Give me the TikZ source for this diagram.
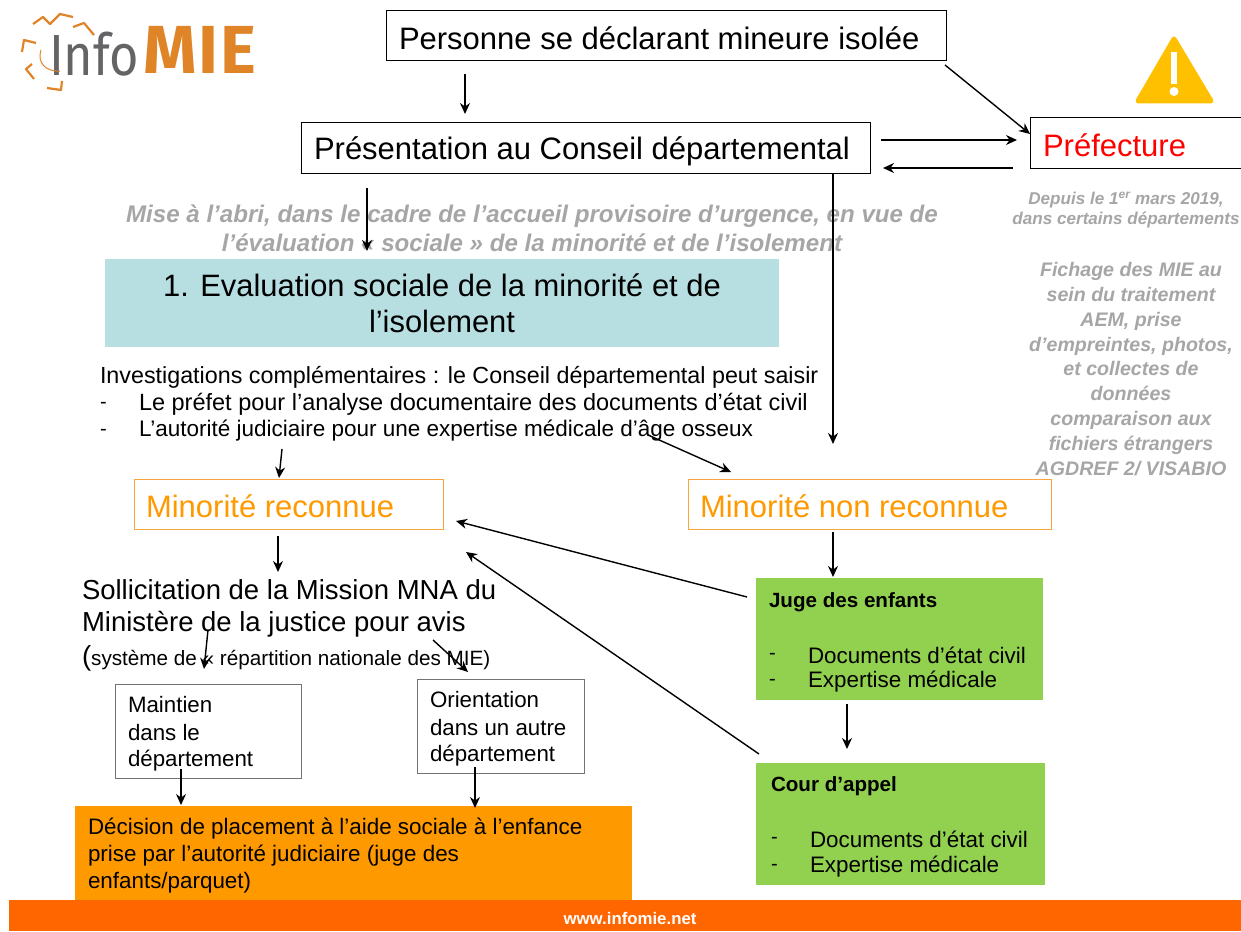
\documentclass[tikz,border=0pt]{standalone}
\usepackage{fontspec}
\usepackage{graphicx}
\setmainfont{Liberation Sans}
\newfontfamily\logofont{Fira Sans}
\newfontfamily\logobold[LetterSpace=3]{Fira Sans}
\usetikzlibrary{arrows.meta}
\definecolor{cgray}{RGB}{166,166,166}
\definecolor{corange}{RGB}{255,153,0}
\definecolor{cbar}{RGB}{255,102,0}
\definecolor{cgreen}{RGB}{146,208,80}
\definecolor{cteal}{RGB}{183,222,225}
\definecolor{clogo}{RGB}{224,132,40}
\definecolor{clogog}{RGB}{100,100,102}
\definecolor{cwarn}{RGB}{255,192,0}
\definecolor{cobox}{RGB}{247,166,60}
\newcommand{\fs}[1]{\fontsize{#1}{#1}\selectfont}
\tikzset{
  x=1pt,y=-1pt,
  conn/.style={draw=black,line width=1.4pt,-{Stealth[length=11pt,width=10pt]}},
  box/.style={anchor=north west,inner sep=0pt,outer sep=0pt},
  txt/.style={anchor=west,inner sep=0pt,outer sep=0pt},
  graytxt/.style={inner sep=0pt,align=center,text=cgray,font=\bfseries\itshape},
  zig/.style={draw=clogo,line width=2.2pt,line join=round},
}
\begin{document}
\begin{tikzpicture}
\useasboundingbox (0,0) rectangle (1241,931);
\fill[white] (0,0) rectangle (1241,931);
% logo
\node[txt,text=clogog] (logoa) at (49,54) {\logofont\fontsize{58}{58}\selectfont\scalebox{.87}[1]{Info}};
\node[txt,text=clogo] (logob) at (143,50) {\logobold\fontsize{68}{68}\selectfont\bfseries MIE};
\draw[zig] (33,24) -- (43,17) -- (50,24) -- (60,14) -- (73,17);
\draw[zig] (73,27) -- (84,23) -- (94,35);
\draw[zig] (22,52) -- (24,40) -- (36,43);
\draw[zig] (34,79) -- (26,69) -- (32,64);
\draw[zig] (47,88) -- (61,90) -- (62,81);
\draw[draw=clogo,line width=1pt] (41,50) .. controls (37,62) and (45,72) .. (60,71);
% warning
\fill[cwarn,draw=cwarn,line width=5pt,line join=round] (1174,39) -- (1211,101) -- (1138,101) -- cycle;
\fill[white] (1170.5,52) rectangle (1177,84);
\fill[white] (1174,91.5) circle (4.5);
% boxes
\node[box,draw=black,line width=1pt,minimum width=560pt,minimum height=50pt] (pers) at (386,11) {};
\node[txt] (perst) at (399,38) {\fs{31}Personne se déclarant mineure isolée};
\node[box,draw=black,line width=1pt,minimum width=569pt,minimum height=50pt] (pres) at (301,123) {};
\node[txt] (prest) at (314,151) {\fs{31}Présentation au Conseil départemental};
\path[draw=black,line width=1pt] (1241,118) -- (1030,118) -- (1030,168) -- (1241,168);
\node[txt,text=red] (pref) at (1043,145) {\fs{31}Préfecture};
\node[graytxt] (mise) at (532,232) {\fs{24.1}\begin{tabular}{@{}c@{}}Mise à l’abri, dans le cadre de l’accueil provisoire d’urgence, en vue de\\[4pt]l’évaluation « sociale » de la minorité et de l’isolement\end{tabular}};
\node[graytxt] (dep) at (1126,211) {\fs{17.1}\begin{tabular}{@{}c@{}}Depuis le 1\textsuperscript{er} mars 2019,\\[2.5pt]dans certains départements\end{tabular}};
\node[graytxt] (fich) at (1131,372) {\fs{19.6}\begin{tabular}{@{}c@{}}Fichage des MIE au\\[4.75pt]sein du traitement\\[4.75pt]AEM, prise\\[4.75pt]d’empreintes, photos,\\[4.75pt]et collectes de\\[4.75pt]données\\[4.75pt]comparaison aux\\[4.75pt]fichiers étrangers\\[4.75pt]AGDREF 2/ VISABIO\end{tabular}};
\node[box,fill=cteal,minimum width=674pt,minimum height=88pt] (eval) at (105,259) {};
\node[inner sep=0pt,align=center] (evalt) at (442,308) {\fs{30.9}\begin{tabular}{@{}c@{}}1. Evaluation sociale de la minorité et de\\[4pt]l’isolement\end{tabular}};
\node[txt] (inv) at (100,377) {\fs{23.3}Investigations complémentaires : le Conseil départemental peut saisir};
\node[txt] (inv1) at (100,405) {\fs{20}-};
\node[txt] (inv1t) at (139,404) {\fs{23.5}Le préfet pour l’analyse documentaire des documents d’état civil};
\node[txt] (inv2) at (100,432) {\fs{20}-};
\node[txt] (inv2t) at (139,431) {\fs{22.5}L’autorité judiciaire pour une expertise médicale d’âge osseux};
\node[box,draw=cobox,line width=1pt,minimum width=309pt,minimum height=50pt] (mr) at (134,479) {};
\node[txt,text=corange] (mrt) at (146,506) {\fs{31}Minorité reconnue};
\node[box,draw=cobox,line width=1pt,minimum width=363pt,minimum height=50pt] (mn) at (688,479) {};
\node[txt,text=corange] (mnt) at (700,506) {\fs{31}Minorité non reconnue};
\node[txt] (sol1) at (82,590) {\fs{27.5}Sollicitation de la Mission MNA du};
\node[txt] (sol2) at (82,624) {\fs{27.5}Ministère de la justice pour avis};
\node[txt] (sol3) at (82,658) {\fs{27.5}(\fs{20.7}système de « répartition nationale des MIE)};
\node[box,draw=black!55,line width=1pt,minimum width=186pt,minimum height=94pt] (main) at (115,684) {};
\node[txt] (maint) at (128,705) {\fs{22.3}Maintien};
\node[txt] (maint2) at (128,733) {\fs{22.3}dans le};
\node[txt] (maint3) at (128,761) {\fs{22.3}département};
\node[box,draw=black!55,line width=1pt,minimum width=167pt,minimum height=94pt] (ori) at (417,679) {};
\node[txt] (orit) at (430,700) {\fs{22.3}Orientation};
\node[txt] (orit2) at (430,728) {\fs{22.3}dans un autre};
\node[txt] (orit3) at (430,756) {\fs{22.3}département};
\node[box,fill=corange,minimum width=557pt,minimum height=94pt] (dec) at (75,806) {};
\node[txt] (dect) at (88,829) {\fs{22.4}Décision de placement à l’aide sociale à l’enfance};
\node[txt] (dect2) at (88,856) {\fs{22.4}prise par l’autorité judiciaire (juge des};
\node[txt] (dect3) at (88,883) {\fs{22.4}enfants/parquet)};
\node[box,fill=cgreen,minimum width=287pt,minimum height=122pt] (juge) at (756,578) {};
\node[txt] (juget) at (769,602) {\fs{20.6}\bfseries Juge des enfants};
\node[txt] (juge1) at (769,656) {\fs{20}-};
\node[txt] (juge1t) at (808,655) {\fs{22.4}Documents d’état civil};
\node[txt] (juge2) at (769,682) {\fs{20}-};
\node[txt] (juge2t) at (808,682) {\fs{22.4}Expertise médicale};
\node[box,fill=cgreen,minimum width=289pt,minimum height=122pt] (cour) at (756,763) {};
\node[txt] (court) at (771,786) {\fs{20.6}\bfseries Cour d’appel};
\node[txt] (cour1) at (771,840) {\fs{20}-};
\node[txt] (cour1t) at (810,839) {\fs{22.4}Documents d’état civil};
\node[txt] (cour2) at (771,867) {\fs{20}-};
\node[txt] (cour2t) at (810,867) {\fs{22.4}Expertise médicale};
\node[box,fill=cbar,minimum width=1232pt,minimum height=31pt] (bar) at (9,900) {};
\node[inner sep=0pt,text=white] (web) at (630,918) {\fs{16.8}\bfseries www.infomie.net};
% connectors
\coordinate (a1s) at (465,74); \coordinate (a1e) at (465,114);
\coordinate (a2s) at (945,65); \coordinate (a2e) at (1030,134);
\coordinate (a3s) at (881,140); \coordinate (a3e) at (1017,140);
\coordinate (a4s) at (1013,168); \coordinate (a4e) at (883,168);
\coordinate (a5s) at (367,188); \coordinate (a5e) at (367,251);
\coordinate (a6s) at (833,174); \coordinate (a6e) at (833,444);
\coordinate (a7s) at (282,449); \coordinate (a7e) at (279,478);
\coordinate (a8s) at (648,435); \coordinate (a8e) at (731,472);
\coordinate (a9s) at (278,536); \coordinate (a9e) at (278,572);
\coordinate (a10s) at (833,532); \coordinate (a10e) at (833,577);
\coordinate (a11s) at (747,597); \coordinate (a11e) at (456,521);
\coordinate (a12s) at (759,754); \coordinate (a12e) at (466,552);
\coordinate (a13s) at (847,704); \coordinate (a13e) at (847,749);
\coordinate (a14s) at (208,630); \coordinate (a14e) at (204,669);
\coordinate (a15s) at (433,640); \coordinate (a15e) at (468,672);
\coordinate (a16s) at (181,769); \coordinate (a16e) at (181,805);
\coordinate (a17s) at (475,767); \coordinate (a17e) at (475,808);
\foreach \i in {1,...,17} \draw[conn] (a\i s) -- (a\i e);
\end{tikzpicture}
\end{document}
